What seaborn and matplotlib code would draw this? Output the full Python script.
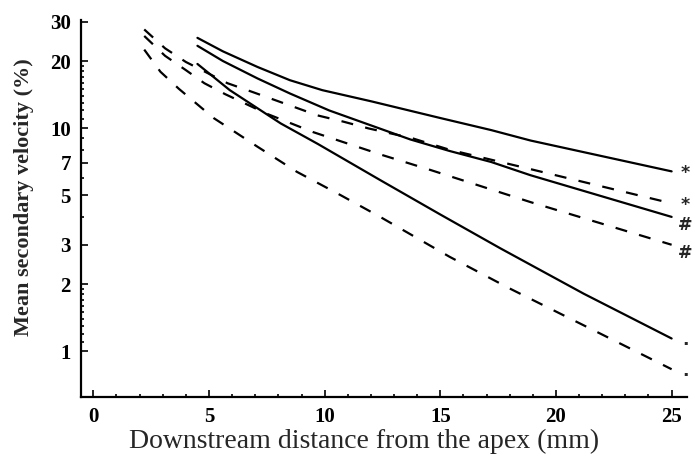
import matplotlib
matplotlib.use("Agg")
import matplotlib.pyplot as plt
import matplotlib.ticker as mticker
import pandas as pd
import seaborn as sns

# solid curves (start at 4.5 mm)
solid_a_x = [4.5, 5.6, 7.1, 8.5, 9.9, 12.0, 15.0, 17.2, 18.9, 25.0]
solid_a_y = [25.4, 22.1, 18.8, 16.4, 14.8, 13.2, 11.1, 9.8, 8.8, 6.4]
solid_b_x = [4.5, 5.6, 7.1, 8.5, 10.2, 13.7, 15.4, 17.2, 18.9, 25.0]
solid_b_y = [23.4, 20.0, 16.7, 14.3, 12.0, 8.9, 7.9, 7.05, 6.15, 4.0]
solid_c_x = [4.5, 5.9, 8.1, 9.7, 12.4, 15.0, 17.6, 21.2, 25.0]
solid_c_y = [19.4, 14.8, 10.5, 8.5, 5.85, 4.1, 2.89, 1.81, 1.14]

# dashed curves (start at ~2 mm)
dash_a_x = [2.2, 3.1, 4.0, 5.8, 6.9, 9.7, 10.8, 11.9, 13.8, 15.4, 18.9, 25.0]
dash_a_y = [27.7, 22.8, 19.8, 15.9, 14.5, 11.4, 10.7, 9.97, 9.0, 8.0, 6.55, 4.6]
dash_b_x = [2.2, 3.1, 4.0, 4.8, 5.7, 7.5, 9.5, 12.5, 14.6, 18.9, 25.0]
dash_b_y = [25.9, 21.1, 18.2, 15.9, 14.2, 11.6, 9.6, 7.57, 6.48, 4.66, 3.0]
dash_c_x = [2.2, 2.9, 3.7, 5.2, 7.1, 8.8, 10.7, 12.4, 15.4, 18.0, 21.5, 25.0]
dash_c_y = [22.5, 17.9, 15.0, 11.1, 8.25, 6.37, 5.0, 4.0, 2.65, 1.91, 1.26, 0.83]

curve_names = ["sa", "sb", "sc", "da", "db", "dc"]
curve_kinds = ["solid", "solid", "solid", "dashed", "dashed", "dashed"]
end_marks = ["*", "#", ".", "*", "#", "."]
xs_all = [solid_a_x, solid_b_x, solid_c_x, dash_a_x, dash_b_x, dash_c_x]
ys_all = [solid_a_y, solid_b_y, solid_c_y, dash_a_y, dash_b_y, dash_c_y]

x_ticks = [0, 5, 10, 15, 20, 25]
y_ticks = [1, 2, 3, 5, 7, 10, 20, 30]
y_minor_subs = [1.1, 1.2, 1.3, 1.4, 1.5, 1.6, 1.7, 1.8, 1.9, 4, 6, 8, 9]

rows = []
for name, kind, xs, ys in zip(curve_names, curve_kinds, xs_all, ys_all):
    for x, y in zip(xs, ys):
        rows.append({"curve": name, "kind": kind, "distance": x, "velocity": y})
df = pd.DataFrame(rows)

sns.set_style("ticks")
plt.rcParams["font.family"] = ["Liberation Serif", "DejaVu Serif"]

fig = plt.figure(figsize=(6.95, 4.68), dpi=100)
ax = fig.add_axes([0.116, 0.152, 0.872, 0.805])

sns.lineplot(data=df, x="distance", y="velocity", units="curve", estimator=None,
             style="kind", style_order=["solid", "dashed"],
             dashes={"solid": "", "dashed": (5.4, 5.6)},
             color="black", linewidth=1.6, sort=False, legend=False, ax=ax)

# little symbols at the end of each curve
mark_dy = {"*": -1, "#": -6, ".": -1}
for mark, xs, ys in zip(end_marks, xs_all, ys_all):
    ax.annotate(mark, xy=(xs[-1], ys[-1]), xytext=(10, mark_dy[mark]),
                textcoords="offset points", ha="center", va="center",
                fontsize=12.5, fontweight="bold", family="DejaVu Sans")

ax.set_yscale("log")
ax.set_xlim(-0.55, 25.65)
ax.set_ylim(0.624, 30.5)
ax.yaxis.set_major_locator(mticker.FixedLocator(y_ticks))
ax.yaxis.set_major_formatter(mticker.FixedFormatter([str(t) for t in y_ticks]))
ax.yaxis.set_minor_locator(mticker.FixedLocator([s * d for d in [1, 10] for s in y_minor_subs]))
ax.yaxis.set_minor_formatter(mticker.NullFormatter())
ax.set_xticks(x_ticks)
ax.xaxis.set_minor_locator(mticker.MultipleLocator(1))

ax.tick_params(which="both", direction="in", width=1.2, colors="black")
ax.tick_params(which="major", length=5, pad=7, labelsize=15)
ax.tick_params(which="minor", length=2.5)
for lab in ax.get_xticklabels() + ax.get_yticklabels():
    lab.set_fontweight("bold")

sns.despine(ax=ax)
for side in ["left", "bottom"]:
    ax.spines[side].set_linewidth(1.6)
    ax.spines[side].set_color("black")

ax.set_xlabel("Downstream distance from the apex (mm)", fontsize=20)
ax.xaxis.set_label_coords(0.468, -0.085)
ax.set_ylabel("Mean secondary velocity (%)", fontsize=16, fontweight="bold")
ax.yaxis.set_label_coords(-0.077, 0.53)

fig.savefig("out.png", dpi=100)
